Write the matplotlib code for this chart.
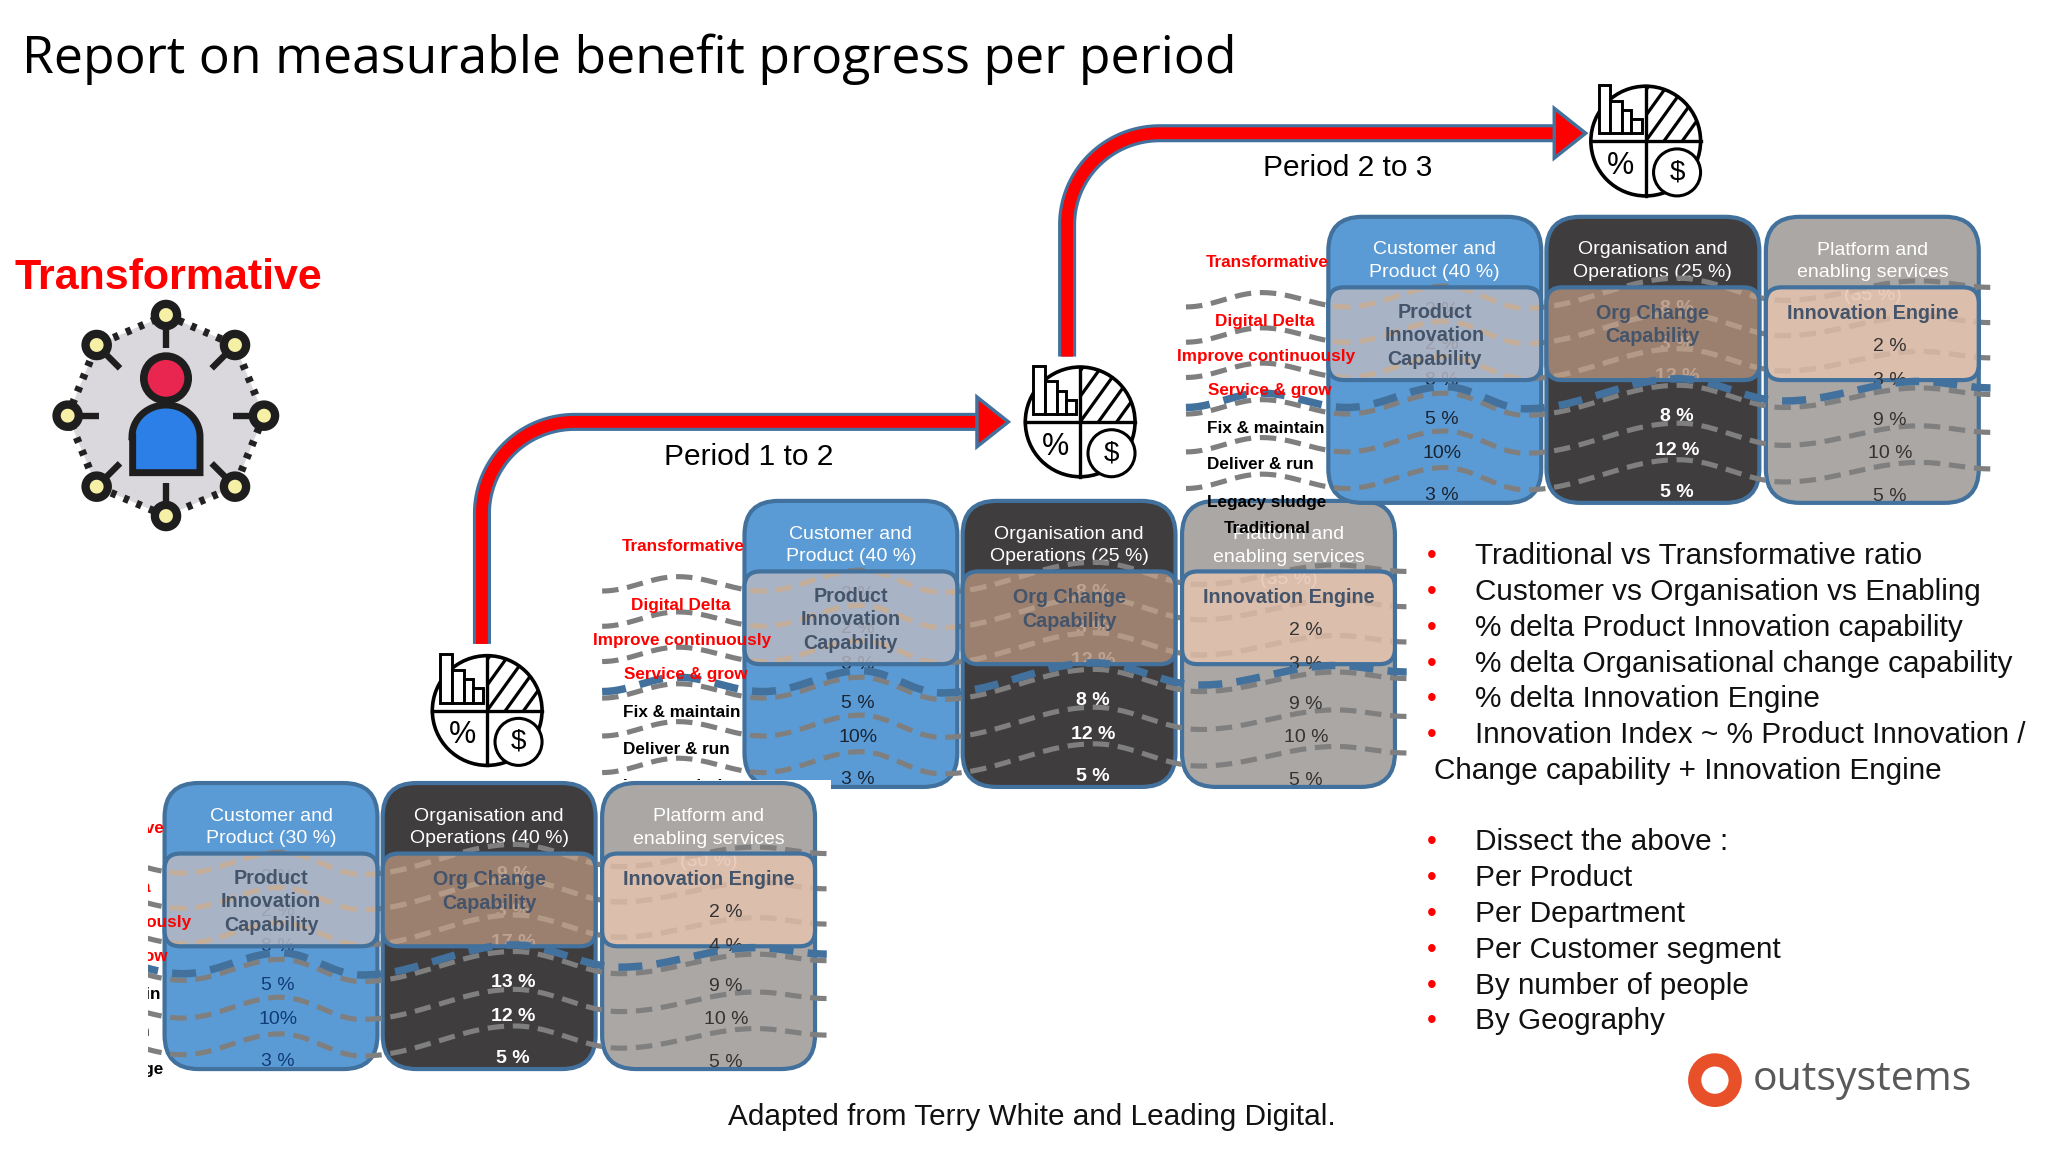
import numpy as np
import matplotlib
matplotlib.use("Agg")
import matplotlib.pyplot as plt
from matplotlib.patches import FancyBboxPatch, Rectangle, Circle, Polygon, Wedge

W, H = 1568.0, 882.0
S = 2048 / W

# ---- content ----
title = "Report on measurable benefit progress per period"
period_labels = ["Period 1 to 2", "Period 2 to 3"]
row_labels = ["Transformative", "Digital Delta", "Improve continuously", "Service & grow",
              "Fix & maintain", "Deliver & run", "Legacy sludge", "Traditional"]
row_colors = ["#FF0000"] * 4 + ["black"] * 4
headers_p1 = ["Customer and\nProduct (30 %)", "Organisation and\nOperations (40 %)", "Platform and\nenabling services\n(30 %)"]
headers_p2 = ["Customer and\nProduct (40 %)", "Organisation and\nOperations (25 %)", "Platform and\nenabling services\n(35 %)"]
headers_p3 = ["Customer and\nProduct (40 %)", "Organisation and\nOperations (25 %)", "Platform and\nenabling services\n(35 %)"]
inner_labels = ["Product\nInnovation\nCapability", "Org Change\nCapability", "Innovation Engine"]
customer_p1 = ["2 %", "2 %", "8 %", "5 %", "10%", "3 %"]
org_p1 = ["9 %", "3 %", "17 %", "13 %", "12 %", "5 %"]
platform_p1 = ["", "2 %", "4 %", "9 %", "10 %", "5 %"]
customer_p2 = ["2 %", "2 %", "8 %", "5 %", "10%", "3 %"]
org_p2 = ["8 %", "3 %", "12 %", "8 %", "12 %", "5 %"]
platform_p2 = ["", "2 %", "3 %", "9 %", "10 %", "5 %"]
customer_p3 = ["2 %", "2 %", "8 %", "5 %", "10%", "3 %"]
org_p3 = ["8 %", "3 %", "12 %", "8 %", "12 %", "5 %"]
platform_p3 = ["", "2 %", "3 %", "9 %", "10 %", "5 %"]
bullets_a = ["Traditional vs Transformative ratio", "Customer vs Organisation vs Enabling",
             "% delta Product Innovation capability", "% delta Organisational change capability",
             "% delta Innovation Engine", "Innovation Index ~ % Product Innovation /"]
bullet_cont = "Change capability + Innovation Engine"
bullets_b = ["Dissect the above :", "Per Product", "Per Department", "Per Customer segment",
             "By number of people", "By Geography"]
credit = "Adapted from Terry White and Leading Digital."

# ---- figure ----
plt.rcParams["font.family"] = ["Liberation Sans", "DejaVu Sans"]
fig = plt.figure(figsize=(20.48, 11.52), dpi=100)
ax = fig.add_axes([0, 0, 1, 1])
ax.set_xlim(0, W)
ax.set_ylim(H, 0)
ax.axis("off")


def T(x, y, s, **kw):
    return ax.text(x, y + 2, s, **kw)


BORDER = "#41719C"
BOX_COL = ["#5B9BD5", "#3F3D3E", "#ABA7A5"]
INNER_COL = ["#BAB9C3", "#B08F7B", "#E8C4B0"]
TAN = ["#C3AD9B", "#B39A87", "#CFB29F"]
BOX_X = [(1017, 1180), (1184, 1347), (1352, 1515)]
COL_VAL_X = [1104, 1284, 1447]
ROW_VAL_Y = [[236, 262, 289, 319, 345, 377], [234, 262, 286, 317, 343, 375], [236, 263, 289, 320, 345, 378]]
ROW_LAB_XY = [(970, 199), (968, 244), (969, 271), (972, 297), (969, 326), (965, 354), (970, 383), (970, 403)]
WAVE_X = np.array([908, 966, 1031, 1106, 1168, 1285, 1366, 1470, 1524.0])
WAVE_DY = np.array([11, 0, 11, -5, 12, -11, 6, -9, -4.0])
WAVE_ROWS = [224, 251, 278, 306, 335, 363]


def wave(dx, y0):
    xs, ys = [], []
    for i in range(len(WAVE_X) - 1):
        t = np.linspace(0, 1, 30)
        s = (1 - np.cos(np.pi * t)) / 2
        xs.append(WAVE_X[i] + (WAVE_X[i + 1] - WAVE_X[i]) * t)
        ys.append(WAVE_DY[i] + (WAVE_DY[i + 1] - WAVE_DY[i]) * s)
    return np.concatenate(xs) + dx, np.concatenate(ys) + y0


def panel(dx, dy, headers, values, z, val_cols=("#1A2433", "white", "#222222")):
    top, bot = 166 + dy, 385 + dy
    itop, ibot = 220 + dy, 291 + dy
    for (x0, x1), c in zip(BOX_X, BOX_COL):
        ax.add_patch(FancyBboxPatch((x0 + dx + 26, top + 26), x1 - x0 - 52, bot - top - 52,
                                    boxstyle="round,pad=26,rounding_size=26", fc=c, ec=BORDER, lw=3, zorder=z))
    for j, ((x0, x1), h) in enumerate(zip(BOX_X, headers)):
        cx = (x0 + x1) / 2 + dx
        T(cx, top + (32 if j < 2 else 41), h, color="white", fontsize=14, ha="center", va="center",
          linespacing=1.42, zorder=z + .1)
    for j in range(2):
        for v, y in zip(values[j], ROW_VAL_Y[j]):
            T(COL_VAL_X[j] + dx, y + dy, v, color=val_cols[j], fontsize=14, ha="center", va="center",
              fontweight="bold" if j == 1 else "normal", zorder=z + .2)
    for y in WAVE_ROWS:
        xw, yw = wave(dx, y + dy)
        ax.plot(xw, yw, color="#7F7F7F", lw=3.7, dashes=(3.2, 1.7), zorder=z + .3)
    for j, (x0, x1) in enumerate(BOX_X):
        ax.add_patch(FancyBboxPatch((x0 + dx + 12, itop + 12), x1 - x0 - 24, ibot - itop - 24,
                                    boxstyle="round,pad=12,rounding_size=12", fc=INNER_COL[j], ec="none",
                                    alpha=.82, zorder=z + .4))
        clip = Rectangle((x0 + dx + 2, itop + 2), x1 - x0 - 4, ibot - itop - 4, transform=ax.transData)
        for y in WAVE_ROWS[:3]:
            xw, yw = wave(dx, y + dy)
            ln, = ax.plot(xw, yw, color=TAN[j], lw=3.7, dashes=(3.2, 1.7), zorder=z + .5)
            ln.set_clip_path(clip)
        ax.add_patch(FancyBboxPatch((x0 + dx + 12, itop + 12), x1 - x0 - 24, ibot - itop - 24,
                                    boxstyle="round,pad=12,rounding_size=12", fc="none", ec=BORDER,
                                    lw=3, zorder=z + .52))
    for v, y in zip(values[2], ROW_VAL_Y[2]):
        T(COL_VAL_X[2] + dx, y + dy, v, color="#333333" if y > 250 else "#555555", fontsize=14,
          ha="center", va="center", zorder=z + .55)
    for j, ((x0, x1), lab) in enumerate(zip(BOX_X, inner_labels)):
        cx = (x0 + x1) / 2 + dx
        cy = {0: 255, 1: 247, 2: 238}[j] + dy
        T(cx, cy, lab, color="#44546A", fontsize=14.2, fontweight="bold", ha="center", va="center",
          linespacing=1.3, zorder=z + .6)
    xw, yw = wave(dx, 301 + dy)
    ax.plot(xw, yw, color=BORDER, lw=5.4, dashes=(3.2, 1.9), zorder=z + .7)
    for lab, col, (lx, ly) in zip(row_labels, row_colors, ROW_LAB_XY):
        T(lx + dx, ly + dy, lab, color=col, fontsize=12.3, fontweight="bold", ha="center", va="center",
          zorder=z + .8)


def arrow(vx, y_start, y_bend, hx, hy, base, tip):
    n = 60
    r_x, r_y = hx - vx, y_bend - hy
    a = np.linspace(0, np.pi / 2, n)
    xs = np.r_[vx, vx + r_x * (1 - np.cos(a)), base + 2]
    ys = np.r_[y_start, y_bend - r_y * np.sin(a), hy]
    ax.plot(xs, ys, color=BORDER, lw=13, solid_capstyle="butt", zorder=30)
    ax.plot(xs, ys, color="#FF0000", lw=8.5, solid_capstyle="butt", zorder=30.1)
    ax.add_patch(Polygon([(base, hy - 19), (tip, hy), (base, hy + 19)], fc="#FF0000", ec=BORDER, lw=2.5, zorder=30.2))


def icon(cx, cy, r=42):
    z = 31
    ax.add_patch(Circle((cx, cy), r, fc="white", ec="black", lw=2.6, zorder=z))
    ax.plot([cx - r, cx + r], [cy, cy], color="black", lw=2.4, zorder=z + .1)
    ax.plot([cx, cx], [cy - r, cy + r], color="black", lw=2.4, zorder=z + .1)
    clip = Wedge((cx, cy), r, 270, 360, transform=ax.transData)
    for off in (-14, 0, 14, 28, 42):
        ln, = ax.plot([cx + off - 14, cx + off + 22], [cy, cy - 50], color="black", lw=2.3, zorder=z + .2)
        ln.set_clip_path(clip)
    for x0, x1, t in [(-36, -27, -43), (-27, -18, -31), (-18, -11, -24), (-11, -3, -17)]:
        ax.add_patch(Rectangle((cx + x0, cy + t), x1 - x0, -t - 6, fc="white", ec="black", lw=2.1, zorder=z + .3))
    ax.text(cx - 19, cy + 19, "%", fontsize=22, color="black", ha="center", va="center", zorder=z + .4)
    ax.add_patch(Circle((cx + 24, cy + 24), 18, fc="white", ec="black", lw=2.2, zorder=z + .5))
    ax.text(cx + 24, cy + 24, "$", fontsize=20, color="black", ha="center", va="center", zorder=z + .6)


# title and side texts
T(17, 43, title, fontsize=37.3, family="Open Sans", color="black", ha="left", va="center")
T(129, 211, "Transformative", fontsize=31, fontweight="bold", color="#FF0000", ha="center", va="center")

# person icon (coordinates from the reference, in its 2048 px frame)
px = lambda v: (v / 3) / S
py = lambda v: (240 + v / 3) / S
nodes = [(498, 225), (705, 315), (792, 527), (705, 740), (498, 828), (290, 740), (203, 527), (290, 315)]
ax.add_patch(Polygon([(px(a), py(b)) for a, b in nodes], closed=True, fc="#DAD8DC", ec="#222222", lw=5.5,
                     linestyle=(0, (0.7, 1.1)), zorder=2))
spokes = [(498, 325), (635, 385), (700, 527), (635, 670), (498, 730), (360, 670), (298, 527), (360, 385)]
for (a, b), (c, d) in zip(nodes, spokes):
    ax.plot([px(a), px(c)], [py(b), py(d)], color="#1E1E1E", lw=4.6, zorder=3, solid_capstyle="butt")
    ax.add_patch(Circle((px(a), py(b)), 8.5, fc="#F6EFA6", ec="#1E1E1E", lw=6, zorder=4))
bx = np.r_[px(398), px(398), px(498) + (px(600) - px(498)) * np.cos(np.linspace(np.pi, 0, 40)), px(600), px(398)]
by = np.r_[py(698), py(590), py(590) - (py(590) - py(495)) * np.sin(np.linspace(np.pi, 0, 40)), py(698), py(698)]
ax.add_patch(Polygon(np.c_[bx, by], fc="#2D7FE8", ec="#1E1E1E", lw=5, zorder=4))
ax.add_patch(Circle((px(498), py(415)), 17, fc="#E8264F", ec="#1E1E1E", lw=5.5, zorder=5))

# panels
panel(-447, 217.5, headers_p2, [customer_p2, org_p2, platform_p2], 10)
panel(0, 0, headers_p3, [customer_p3, org_p3, platform_p3], 14)
ax.add_patch(Rectangle((113, 597), 523, 248, fc="white", ec="none", zorder=17))
panel(-891, 433.5, headers_p1, [customer_p1, org_p1, platform_p1], 18,
      val_cols=("#0F3C78", "white", "#222222"))
ax.add_patch(Rectangle((0, 590), 113.5, 270, fc="white", ec="none", zorder=22))

# arrows and icons
arrow(369, 493, 393, 440, 323, 748, 772)
arrow(817, 273, 172, 888, 102, 1190, 1214)
for c in [(373, 544), (827, 323), (1260, 108)]:
    icon(*c)
T(573, 348, period_labels[0], fontsize=21.5, color="black", ha="center", va="center", zorder=35)
T(1032, 127, period_labels[1], fontsize=21.5, color="black", ha="center", va="center", zorder=35)

# bullets
FS = 21.4
for t, y in zip(bullets_a, [424, 451, 479, 506, 533, 561]):
    T(1096, y, "\u2022", color="#FF0000", fontsize=20, ha="center", va="center", zorder=35)
    T(1129, y, t, color="#111111", fontsize=FS, ha="left", va="center", zorder=35)
T(1098, 588, bullet_cont, color="#111111", fontsize=FS, ha="left", va="center", zorder=35)
for t, y in zip(bullets_b, [643, 670, 698, 725, 753, 780]):
    T(1096, y, "\u2022", color="#FF0000", fontsize=20, ha="center", va="center", zorder=35)
    T(1129, y, t, color="#111111", fontsize=FS, ha="left", va="center", zorder=35)
T(790, 853, credit, color="#111111", fontsize=FS, ha="center", va="center", zorder=35)

# logo
ax.add_patch(Circle((1313, 827), 15.5, fc="white", ec="#E8502A", lw=9.5, zorder=35))
T(1342, 825, "outsystems", fontsize=29.5, family="Open Sans", color="#58595B", ha="left", va="center", zorder=35)

fig.savefig("out.png", dpi=100, facecolor="white")
